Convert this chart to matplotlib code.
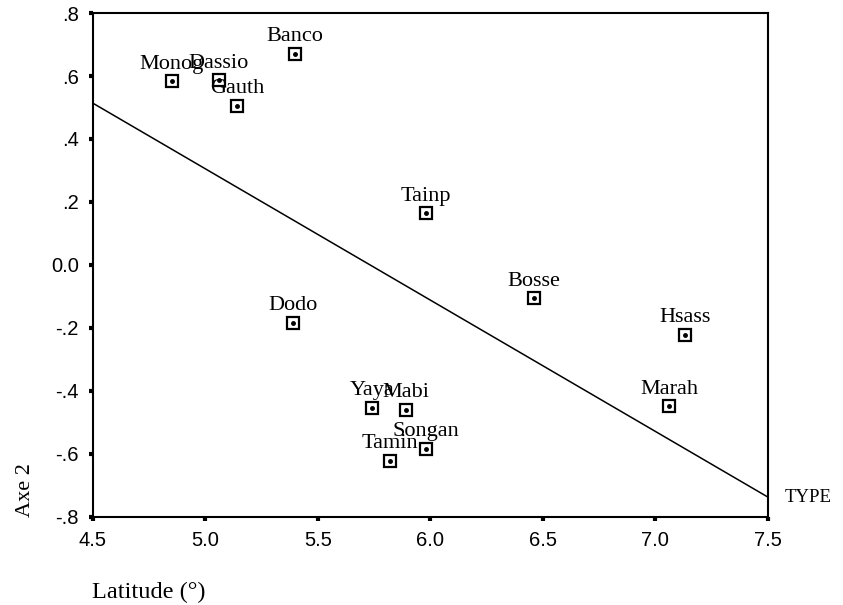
import matplotlib
matplotlib.use('Agg')
import matplotlib.pyplot as plt

# sites: latitude vs axe 2 score
names = ['Monog', 'Dassio', 'Banco', 'Gauth', 'Tainp', 'Bosse', 'Dodo',
         'Hsass', 'Yaya', 'Mabi', 'Marah', 'Songan', 'Tamin']
lat = [4.85, 5.06, 5.40, 5.14, 5.98, 6.46, 5.39,
       7.13, 5.74, 5.89, 7.06, 5.98, 5.82]
axe2 = [0.584, 0.587, 0.670, 0.505, 0.165, -0.105, -0.184,
        -0.222, -0.454, -0.460, -0.448, -0.584, -0.622]

# fitted line (TYPE)
line_x = [4.5, 7.5]
line_y = [0.514, -0.737]

xticks = [4.5, 5.0, 5.5, 6.0, 6.5, 7.0, 7.5]
yticks = [-0.8, -0.6, -0.4, -0.2, 0.0, 0.2, 0.4, 0.6, 0.8]
ylabels = ['-.8', '-.6', '-.4', '-.2', '0.0', '.2', '.4', '.6', '.8']

serif = 'Liberation Serif'
sans = 'Liberation Sans'

fig = plt.figure(figsize=(8.43, 6.05), dpi=100)
ax = fig.add_axes([0.110, 0.1455, 0.801, 0.833])

ax.plot(line_x, line_y, color='black', lw=1.1)
ax.plot(lat, axe2, 's', ms=8.5, mfc='white', mec='black', mew=1.6, ls='none')
ax.plot(lat, axe2, 'o', ms=2.5, color='black', ls='none')

# labels sit above each marker, centred (they overlap in places, as in the original)
for n, x, y in zip(names, lat, axe2):
    ax.annotate(n, (x, y), xytext=(0, 9), textcoords='offset points',
                ha='center', va='baseline', fontsize=16, family=serif)

ax.set_xlim(4.5, 7.5)
ax.set_ylim(-0.8, 0.8)
ax.set_xticks(xticks)
ax.set_xticklabels([f'{t:.1f}' for t in xticks], family=sans, fontsize=14.5)
ax.set_yticks(yticks)
ax.set_yticklabels(ylabels, family=sans, fontsize=14.5)
ax.tick_params(direction='out', length=3, width=3, pad=7)
for s in ax.spines.values():
    s.set_linewidth(1.5)

ax.text(1.025, line_y[1], 'TYPE', transform=ax.get_yaxis_transform(),
        ha='left', va='center', fontsize=13.5, family=serif)
fig.text(25 / 843, 1 - 517 / 605, 'Axe 2', rotation=90, ha='center',
         va='bottom', fontsize=16, family=serif)
fig.text(92 / 843, 1 - 592 / 605, 'Latitude (°)', ha='left', va='center',
         fontsize=17.5, family=serif)

fig.savefig('out.png', dpi=100)
